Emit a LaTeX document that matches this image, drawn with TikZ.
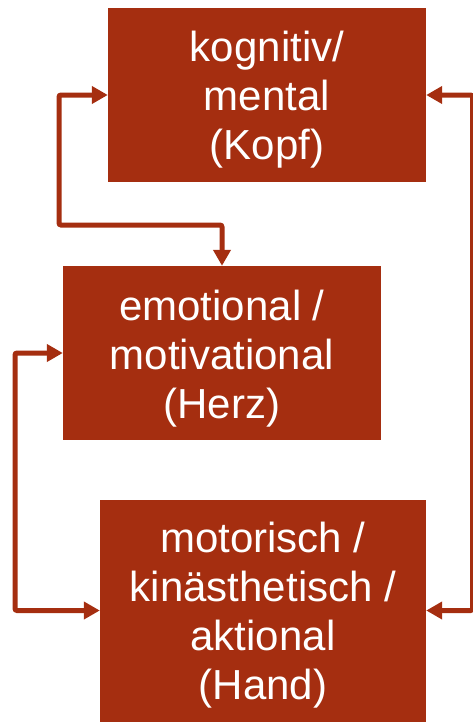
\documentclass[tikz,border=0pt]{standalone}
\usepackage{fontspec}
\setmainfont{Liberation Sans}
\usepackage{xcolor}
\usetikzlibrary{arrows.meta,positioning}
\definecolor{rust}{RGB}{165,46,16}

\begin{document}
\begin{tikzpicture}[
  x=1pt, y=-1pt,
  box/.style={fill=rust, draw=none, inner sep=0pt, minimum width=318pt, minimum height=174pt},
  boxtext/.style={inner sep=0pt, align=center, text=white, anchor=base, font=\fontsize{42}{49}\selectfont},
  edge/.style={arrows={Triangle[length=16pt,width=17pt]-Triangle[length=16pt,width=17pt]}, line width=5pt, draw=rust, rounded corners=2pt}
]
  \useasboundingbox (0,0) rectangle (472,723);
  % the three boxes
  \node[box] (kopf) at (267,95) {};
  \node[box] (herz) at (222,353) {};
  \node[box, minimum width=326pt, minimum height=222pt] (hand) at (263,610.5) {};
  % their texts, placed at the last baseline
  \node[boxtext] (kopftext) at (kopf.center |- 0,159) {kognitiv/\\mental\\(Kopf)};
  \node[boxtext] (herztext) at (herz.center |- 0,418) {emotional /\\motivational\\(Herz)};
  \node[boxtext] (handtext) at (hand.center |- 0,699) {motorisch /\\kinästhetisch /\\aktional\\(Hand)};
  \coordinate (kk) at (59,225);
  \coordinate (lk) at (15,480);
  \coordinate (rk) at (472.5,350);
  \draw[edge] (kopf.west) -| (kk) -| (herz.north);
  \draw[edge] (herz.west) -| (lk) |- (hand.west);
  \draw[edge] (kopf.east) -| (rk) |- (hand.east);
\end{tikzpicture}
\end{document}
